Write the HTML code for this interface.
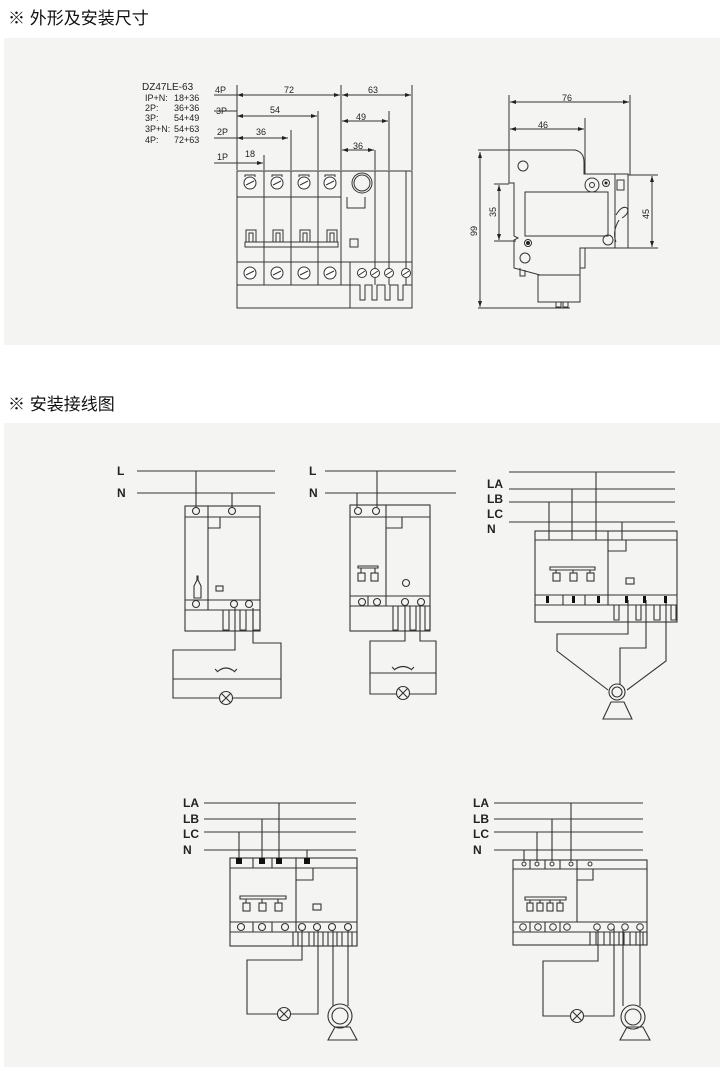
<!DOCTYPE html>
<html><head><meta charset="utf-8"><style>
html,body{margin:0;padding:0;background:#fff;width:720px;height:1067px;overflow:hidden}
svg{display:block}
.h{font-family:"Liberation Sans","Noto Sans CJK SC",sans-serif;font-size:17px;fill:#111}
.t{font-family:"Liberation Sans",sans-serif;font-size:9px;fill:#222}
.l{font-family:"Liberation Sans",sans-serif;font-size:12px;font-weight:bold;fill:#222}
</style></head><body>
<svg width="720" height="1067" viewBox="0 0 720 1067" xmlns="http://www.w3.org/2000/svg">
<defs>
<marker id="a" viewBox="0 0 6 6" refX="6" refY="3" markerWidth="6" markerHeight="6" orient="auto-start-reverse"><path d="M0,1 L6,3 L0,5z" fill="#222"/></marker>
</defs>
<rect x="4" y="38" width="716" height="307" fill="#f4f5f3"/>
<rect x="4" y="423" width="716" height="644" fill="#f4f5f3"/>
<text class="h" x="8" y="24">※ 外形及安装尺寸</text>
<text class="h" x="8" y="410">※ 安装接线图</text>

<g stroke="#333" stroke-width="1" fill="none">
<!-- dimensions front -->
<path d="M237,85V170M264,155V170M291,130V170M318,111V170M341,85V170M375,150V170M389,111V170M412,85V170"/>
<path d="M214,95H237M214,111H237M214,138H237M214,163H237"/>
<line x1="237" y1="95" x2="340" y2="95" marker-start="url(#a)" marker-end="url(#a)"/>
<line x1="342" y1="95" x2="411" y2="95" marker-start="url(#a)" marker-end="url(#a)"/>
<line x1="237" y1="116" x2="317" y2="116" marker-start="url(#a)" marker-end="url(#a)"/>
<line x1="237" y1="138" x2="288" y2="138" marker-start="url(#a)" marker-end="url(#a)"/>
<line x1="237" y1="163" x2="263" y2="163" marker-end="url(#a)"/>
<line x1="342" y1="121" x2="388" y2="121" marker-start="url(#a)" marker-end="url(#a)"/>
<line x1="342" y1="150" x2="374" y2="150" marker-start="url(#a)" marker-end="url(#a)"/>
<!-- front body -->
<rect x="237" y="171" width="175" height="137"/>
<path d="M237,197H341M237,262H412M237,285H350M264,171V285M291,171V285M318,171V285M341,171V285M375,171V285M389,171V285M406,171V285"/>
<path d="M350,262V308M350,285H360V300H365V285H372V300H377V285H385V300H390V285H398V300H403V285H412"/>
<path d="M347,197V208H365V197"/><rect x="350" y="239" width="8" height="8"/>
<circle cx="362" cy="183" r="10"/><circle cx="362" cy="183" r="8"/>
<path d="M245,247V242H338V247ZM246,242V230H256V242M249,242V233H253V242M273,242V230H283V242M276,242V233H280V242M300,242V230H310V242M303,242V233H307V242M327,242V230H337V242M330,242V233H334V242"/>
</g>
<g stroke="#333" stroke-width="1" fill="#fff">
<circle cx="250" cy="183" r="6"/><circle cx="277" cy="183" r="6"/><circle cx="304" cy="183" r="6"/><circle cx="330" cy="183" r="6"/>
<circle cx="250" cy="273" r="6"/><circle cx="277" cy="273" r="6"/><circle cx="304" cy="273" r="6"/><circle cx="330" cy="273" r="6"/>
<circle cx="362" cy="273" r="4.5"/><circle cx="375" cy="273" r="4.5"/><circle cx="389" cy="273" r="4.5"/><circle cx="406" cy="273" r="4.5"/>
</g>
<g stroke="#333" stroke-width="1">
<path d="M246,185L254,181M273,185L281,181M300,185L308,181M326,185L334,181M246,275L254,271M273,275L281,271M300,275L308,271M326,275L334,271M359,275L365,271M372,275L378,271M386,275L392,271M403,275L409,271"/>
<path d="M245,177V175H255V177M272,177V175H282V177M299,177V175H309V177M325,177V175H335V177" fill="none"/>
</g>
<text class="t" x="142" y="90" style="font-size:10px">DZ47LE-63</text>
<text class="t" x="145" y="101">IP+N:</text><text class="t" x="174" y="101">18+36</text>
<text class="t" x="145" y="111">2P:</text><text class="t" x="174" y="111">36+36</text>
<text class="t" x="145" y="121">3P:</text><text class="t" x="174" y="121">54+49</text>
<text class="t" x="145" y="132">3P+N:</text><text class="t" x="174" y="132">54+63</text>
<text class="t" x="145" y="143">4P:</text><text class="t" x="174" y="143">72+63</text>
<text class="t" x="215" y="93">4P</text><text class="t" x="216" y="114">3P</text><text class="t" x="217" y="135">2P</text><text class="t" x="217" y="160">1P</text>
<text class="t" x="284" y="93">72</text><text class="t" x="368" y="93">63</text><text class="t" x="270" y="113">54</text>
<text class="t" x="256" y="135">36</text><text class="t" x="245" y="157">18</text><text class="t" x="356" y="120">49</text><text class="t" x="353" y="149">36</text>

<!-- side view -->
<g stroke="#333" stroke-width="1" fill="none">
<path d="M509,95V150M630,95V175M585,118V174M478,150H509M478,308H570M628,175H658M628,248H658"/>
<line x1="510" y1="102" x2="629" y2="102" marker-start="url(#a)" marker-end="url(#a)"/>
<line x1="510" y1="129" x2="584" y2="129" marker-start="url(#a)" marker-end="url(#a)"/>
<line x1="480" y1="152" x2="480" y2="307" marker-start="url(#a)" marker-end="url(#a)"/>
<line x1="499" y1="185" x2="499" y2="240" marker-start="url(#a)" marker-end="url(#a)"/>
<line x1="652" y1="176" x2="652" y2="247" marker-start="url(#a)" marker-end="url(#a)"/>
<path d="M494,184H509M494,241H516"/>
<path d="M509,150H575Q584,152 584,162V174H628V248H580V275L540,275L514,268V240L518,238L514,236V183H509Z"/>
<rect x="538" y="275" width="42" height="27"/>
<path d="M615,174V248M580,248V268H585V248M520,268V276H525V270M556,302V307H561V302M563,302V307H568V302"/>
<rect x="525" y="192" width="83" height="44"/>
<circle cx="523" cy="166" r="5"/><circle cx="592" cy="185" r="7"/><circle cx="592" cy="185" r="2.5"/>
<circle cx="608" cy="240" r="5"/><circle cx="525" cy="258" r="5"/><circle cx="606" cy="183" r="3.5"/><circle cx="528" cy="243" r="3.5"/>
<rect x="617" y="180" width="7" height="10"/>
<path d="M616,215Q622,205 627,208Q630,213 622,218M619,220Q612,232 616,242"/>
</g>
<circle cx="606" cy="183" r="1.5" fill="#222"/><circle cx="528" cy="243" r="2" fill="#222"/>
<text class="t" x="562" y="101">76</text><text class="t" x="538" y="128">46</text>
<text class="t" transform="translate(477,236) rotate(-90)">99</text>
<text class="t" transform="translate(496,217) rotate(-90)">35</text>
<text class="t" transform="translate(649,219) rotate(-90)">45</text>

<!-- wiring 1 -->
<g stroke="#333" stroke-width="1.1" fill="none">
<path d="M137,471H275M137,493H275M196,471V507M232,493V507"/>
<rect x="185" y="506" width="75" height="125"/>
<path d="M185,517H260M185,600H260M185,610H260M208,506V610M208,528H220V517"/>
<rect x="216" y="586" width="7" height="5"/>
<path d="M194,586V598H201V586L198,580V576H197V580Z"/>
<path d="M223,610V630H229V610M240,610V630H246V610M253,610V630H260V610"/>
<path d="M235,608V650H173V698H281V643H253V608M173,679H281"/>
<path d="M217,672Q226,664 235,672M215,669L218,672M237,669L234,672"/>
<circle cx="226" cy="698" r="6.5" fill="#f4f5f3"/><path d="M221.5,693.5L230.5,702.5M230.5,693.5L221.5,702.5"/>
</g>
<g stroke="#333" stroke-width="1.1" fill="#f4f5f3">
<circle cx="196" cy="511" r="3.5"/><circle cx="232" cy="511" r="3.5"/>
<circle cx="196" cy="604" r="3.5"/><circle cx="234" cy="604" r="3.5"/><circle cx="249" cy="604" r="3.5"/>
</g>
<text class="l" x="117" y="475">L</text><text class="l" x="117" y="497">N</text>

<!-- wiring 2 -->
<g stroke="#333" stroke-width="1.1" fill="none">
<path d="M325,471H456M325,493H456M377,471V507M357,493V507"/>
<rect x="350" y="505" width="80" height="126"/>
<path d="M350,517H430M350,596H430M350,606H430M386,505V606M386,528H402V517M368,596V606"/>
<path d="M358,566H378V568H358ZM361,568V573M375,568V573"/>
<rect x="358" y="573" width="7" height="8"/><rect x="371" y="573" width="7" height="8"/>
<path d="M393,606V630H398V606M410,606V630H416V606M425,606V630H430V606"/>
<path d="M405,604V641H370V694H436V641H420V604M370,673H436"/>
<path d="M394,670Q403,663 412,670M392,667L395,670M414,667L411,670"/>
<circle cx="403" cy="693" r="6.5" fill="#f4f5f3"/><path d="M398.5,688.5L407.5,697.5M407.5,688.5L398.5,697.5"/>
</g>
<g stroke="#333" stroke-width="1.1" fill="#f4f5f3">
<circle cx="358" cy="511" r="3.5"/><circle cx="376" cy="511" r="3.5"/><circle cx="406" cy="583" r="3.5"/>
<circle cx="362" cy="602" r="3.5"/><circle cx="377" cy="602" r="3.5"/><circle cx="405" cy="602" r="3.5"/><circle cx="421" cy="602" r="3.5"/>
</g>
<text class="l" x="309" y="475">L</text><text class="l" x="309" y="497">N</text>

<!-- wiring 3 -->
<g stroke="#333" stroke-width="1.1" fill="none">
<path d="M509,472H675M509,489H675M509,502H675M509,522H675"/>
<path d="M549,502V540M572,489V540M596,472V540M622,522V540"/>
<rect x="535" y="531" width="142" height="91"/>
<path d="M535,540H677M535,595H677M535,605H677M608,531V605M608,551H626V540M563,595V605M585,595V605"/>
<path d="M550,567H595V570H550ZM556,570V573M573,570V573M590,570V573"/>
<rect x="553" y="573" width="7" height="8"/><rect x="570" y="573" width="7" height="8"/><rect x="587" y="573" width="7" height="8"/>
<rect x="626" y="578" width="8" height="6"/>
<path d="M614,605V620H619V605M636,605V620H641V605M654,605V620H660V605M671,605V620H676V605"/>
<path d="M628,600V634H557V651L608,690M646,600V648H620V686M666,600V661L627,690"/>
<circle cx="617" cy="692" r="8" fill="#f4f5f3"/><circle cx="617" cy="692" r="5"/>
<path d="M603,719H632L624,702H611Z"/>
</g>
<g fill="#111"><rect x="546" y="596" width="3" height="7"/><rect x="572" y="596" width="3" height="7"/><rect x="597" y="596" width="3" height="7"/><rect x="625" y="596" width="3" height="7"/><rect x="643" y="596" width="3" height="7"/><rect x="664" y="596" width="3" height="7"/></g>
<text class="l" x="487" y="488">LA</text><text class="l" x="487" y="503">LB</text><text class="l" x="487" y="518">LC</text><text class="l" x="487" y="533">N</text>

<!-- wiring 4 -->
<g stroke="#333" stroke-width="1.1" fill="none">
<path d="M204,803H356M204,819H356M204,832H356M204,850H356"/>
<path d="M239,832V860M262,819V860M279,803V860M307,850V860"/>
<rect x="230" y="858" width="127" height="88"/>
<path d="M230,868H357M230,922H357M230,932H357M296,858V932M296,880H313V868M253,858V868M272,858V868M253,922V932M272,922V932"/>
<path d="M240,896H286V899H240ZM246,899V903M262,899V903M278,899V903"/>
<rect x="243" y="903" width="7" height="8"/><rect x="259" y="903" width="7" height="8"/><rect x="275" y="903" width="7" height="8"/>
<rect x="313" y="904" width="8" height="6"/>
<path d="M293,932V946H298V932M309,932V946H314V932M323,932V946H328V932M337,932V946H342V932M352,932V946H357V932"/>
<path d="M302,928V960H247V1014H318V928M333,928V1006M348,928V1006"/>
<circle cx="284" cy="1014" r="6.5" fill="#f4f5f3"/><path d="M279.5,1009.5L288.5,1018.5M288.5,1009.5L279.5,1018.5"/>
<circle cx="340" cy="1016" r="12" fill="#f4f5f3"/><circle cx="340" cy="1016" r="8"/>
<path d="M328,1040H357L350,1027H335Z"/>
</g>
<g fill="#111"><rect x="236" y="858" width="6" height="6"/><rect x="259" y="858" width="6" height="6"/><rect x="276" y="858" width="6" height="6"/><rect x="304" y="858" width="6" height="6"/></g>
<g stroke="#333" stroke-width="1.1" fill="#f4f5f3">
<circle cx="241" cy="927" r="3.5"/><circle cx="262" cy="927" r="3.5"/><circle cx="285" cy="927" r="3.5"/><circle cx="302" cy="927" r="3.5"/><circle cx="317" cy="927" r="3.5"/><circle cx="332" cy="927" r="3.5"/><circle cx="348" cy="927" r="3.5"/>
</g>
<text class="l" x="183" y="807">LA</text><text class="l" x="183" y="823">LB</text><text class="l" x="183" y="838">LC</text><text class="l" x="183" y="854">N</text>

<!-- wiring 5 -->
<g stroke="#333" stroke-width="1.1" fill="none">
<path d="M494,803H643M494,819H643M494,832H643M494,850H643"/>
<path d="M524,850V861M537,832V861M552,819V861M571,803V861"/>
<rect x="513" y="860" width="134" height="85"/>
<path d="M513,869H647M513,922H647M513,932H647M577,860V922M577,880H593V869M530,860V869M545,860V869M560,860V869M530,922V932M545,922V932M560,922V932"/>
<path d="M525,897H566V900H525ZM530,900V903M540,900V903M550,900V903M560,900V903"/>
<rect x="527" y="903" width="6" height="8"/><rect x="537" y="903" width="6" height="8"/><rect x="547" y="903" width="6" height="8"/><rect x="557" y="903" width="6" height="8"/>
<path d="M590,932V945H596V932M604,932V945H610V932M619,932V945H624V932M630,932V945H636V932M643,932V945H647V932"/>
<path d="M598,928V961H543V1016H614V928M623,928V1006M640,928V1006"/>
<circle cx="577" cy="1016" r="6.5" fill="#f4f5f3"/><path d="M572.5,1011.5L581.5,1020.5M581.5,1011.5L572.5,1020.5"/>
<circle cx="633" cy="1017" r="12" fill="#f4f5f3"/><circle cx="633" cy="1017" r="8"/>
<path d="M620,1040H650L643,1027H627Z"/>
</g>
<g stroke="#333" stroke-width="1" fill="#f4f5f3">
<circle cx="524" cy="864" r="2"/><circle cx="537" cy="864" r="2"/><circle cx="552" cy="864" r="2"/><circle cx="571" cy="864" r="2"/><circle cx="590" cy="864" r="2"/>
<circle cx="523" cy="927" r="3.3"/><circle cx="538" cy="927" r="3.3"/><circle cx="553" cy="927" r="3.3"/><circle cx="567" cy="927" r="3.3"/>
<circle cx="597" cy="927" r="3.3"/><circle cx="611" cy="927" r="3.3"/><circle cx="625" cy="927" r="3.3"/><circle cx="640" cy="927" r="3.3"/>
</g>
<text class="l" x="473" y="807">LA</text><text class="l" x="473" y="823">LB</text><text class="l" x="473" y="838">LC</text><text class="l" x="473" y="854">N</text>
</svg>
</body></html>
